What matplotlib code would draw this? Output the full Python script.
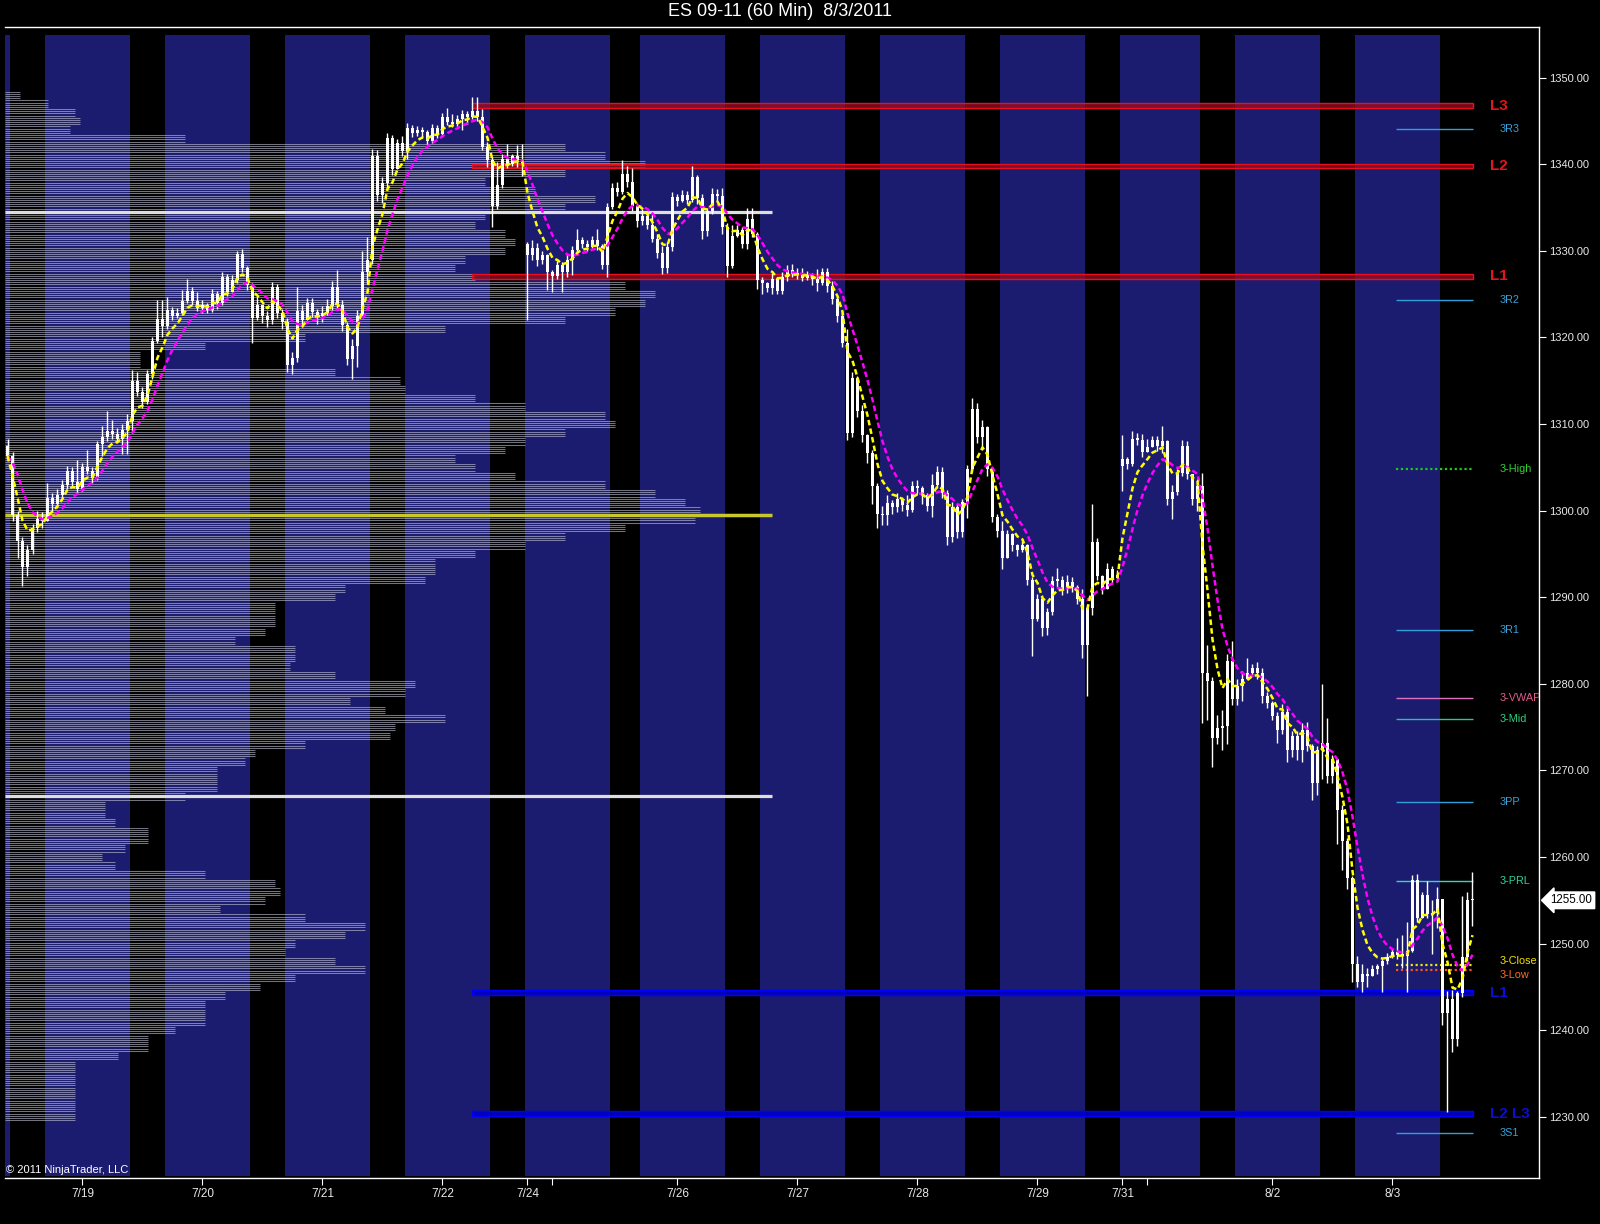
import numpy as np
import matplotlib
matplotlib.use('Agg')
import matplotlib.pyplot as plt
import matplotlib.transforms as mtransforms
from matplotlib.patches import Rectangle

plt.rcParams['font.family'] = ['Liberation Sans', 'DejaVu Sans']

# ES 09-11, 60 min bars (bar index 0 = 7/18 evening)
first_open = 1307.5
gap_opens = {104: 1330.8, 223: 1305.2}

close = [
    1306.3, 1299.5, 1296.5, 1293.5, 1295.5, 1298.0, 1299.0, 1298.8,
    1301.5, 1300.8, 1301.8, 1303.0, 1304.6, 1303.3, 1302.5, 1305.0, 1304.6, 1303.8, 1307.7, 1308.5,
    1309.2, 1308.8, 1308.3, 1309.3, 1310.4, 1315.0,
    1313.7, 1312.5, 1315.8, 1319.6, 1322.1, 1321.3,
    1323.2, 1322.5, 1322.8, 1324.2, 1325.4, 1324.2, 1323.4, 1323.8, 1323.2, 1325.0, 1324.0, 1327.0,
    1325.2, 1326.6, 1329.6, 1328.0, 1326.0, 1322.3,
    1323.8, 1322.5, 1322.0, 1325.8, 1322.8, 1321.8,
    1316.8, 1317.6, 1323.0, 1322.0, 1324.0, 1322.9, 1322.5, 1322.8, 1323.6, 1325.8, 1323.8, 1321.4,
    1317.5, 1319.0, 1322.5, 1327.6, 1329.0, 1341.0,
    1336.5, 1337.8, 1343.0, 1339.4, 1342.4, 1341.5,
    1344.2, 1343.6, 1344.0, 1343.7, 1342.7, 1344.2, 1343.5, 1345.4, 1344.9, 1344.7, 1345.2, 1345.8,
    1345.4, 1346.2, 1345.4, 1342.0, 1340.5, 1335.2,
    1337.6, 1340.6, 1340.0, 1340.9, 1340.5, 1340.2,
    1329.5, 1330.3, 1328.9, 1329.5, 1327.5, 1327.1, 1328.4, 1327.5, 1329.0, 1330.1, 1331.2, 1330.8,
    1330.5, 1331.2, 1330.6, 1328.4, 1335.1, 1337.2,
    1336.8, 1338.9, 1338.0, 1335.2, 1333.5,
    1334.0, 1333.0, 1331.4, 1329.8, 1328.0, 1330.4, 1336.2, 1335.7, 1336.5, 1335.9, 1338.5, 1336.1,
    1332.3, 1334.6, 1336.6, 1336.3, 1332.7, 1328.3,
    1331.7, 1332.4, 1330.8, 1333.7, 1332.0, 1326.6,
    1326.3, 1325.7, 1326.8, 1325.4, 1327.0, 1327.8, 1327.3, 1327.4, 1326.9, 1327.2, 1326.7, 1326.3,
    1327.5, 1325.9, 1324.4, 1322.5, 1319.4, 1309.0,
    1315.3, 1311.5, 1308.7, 1306.7, 1302.8, 1299.6,
    1299.5, 1300.9, 1300.4, 1301.3, 1300.6, 1300.1, 1302.8, 1302.6, 1301.8, 1300.5, 1303.0, 1304.5,
    1302.0, 1296.9, 1300.4, 1297.5, 1301.0, 1304.8,
    1311.7, 1308.5, 1309.6, 1304.8, 1299.3, 1297.6,
    1294.5, 1297.3, 1296.0, 1295.4, 1296.0, 1292.0, 1287.5, 1289.8, 1286.4, 1288.3, 1291.9, 1292.0,
    1290.9, 1291.8, 1291.2, 1289.8, 1284.5, 1288.7,
    1296.4, 1292.5, 1291.0, 1293.3, 1292.2, 1292.6,
    1306.0, 1305.4, 1308.3, 1308.2, 1306.8, 1307.4, 1308.2, 1307.5, 1308.0, 1301.4, 1302.2, 1304.3,
    1307.5, 1304.2, 1301.4, 1302.8,
    1281.3, 1280.3, 1273.7, 1274.9, 1275.1, 1282.6, 1278.2,
    1279.7, 1280.6, 1281.3, 1281.8, 1281.2, 1278.6, 1277.8, 1276.3, 1274.7, 1276.8, 1272.4, 1274.0,
    1272.4, 1274.7, 1272.8, 1268.5, 1272.4,
    1273.2, 1269.3, 1271.3, 1265.4, 1261.9, 1257.6, 1247.6,
    1245.6, 1246.5, 1246.3, 1247.1, 1247.4, 1248.0, 1248.5, 1249.0, 1248.7, 1248.6, 1249.2, 1257.4,
    1253.0, 1255.6, 1253.4, 1253.5, 1255.2,
    1242.0, 1243.6, 1239.0, 1244.3, 1248.4, 1255.0, 1255.0,
]

high = [
    1308.3, 1306.8, 1300.0, 1297.0, 1296.0, 1298.5, 1300.0, 1299.8,
    1303.2, 1302.0, 1302.5, 1303.5, 1305.2, 1305.0, 1305.8, 1305.5, 1307.0, 1305.0, 1308.0, 1309.8,
    1311.5, 1310.5, 1309.5, 1310.0, 1311.2, 1316.2,
    1316.0, 1314.3, 1316.2, 1320.0, 1324.3, 1324.3,
    1324.7, 1323.5, 1323.4, 1325.5, 1326.7, 1325.8, 1325.3, 1324.3, 1324.0, 1325.6, 1325.4, 1327.6,
    1327.3, 1327.2, 1330.0, 1330.2, 1328.3, 1326.3,
    1324.8, 1323.8, 1323.0, 1326.4, 1326.2, 1323.3,
    1322.3, 1318.3, 1325.8, 1323.8, 1324.6, 1324.6, 1323.3, 1323.6, 1324.4, 1326.5, 1327.8, 1324.3,
    1321.8, 1319.8, 1323.2, 1330.0, 1331.6, 1341.8,
    1341.6, 1338.5, 1343.6, 1343.4, 1342.9, 1343.3,
    1344.8, 1344.5, 1344.4, 1344.3, 1343.9, 1344.6, 1344.5, 1345.9, 1346.5, 1345.8, 1345.7, 1346.3,
    1346.2, 1347.8, 1347.8, 1346.4, 1342.6, 1340.8,
    1340.3, 1341.2, 1342.3, 1341.2, 1342.2, 1342.3,
    1331.0, 1331.3, 1330.9, 1330.0, 1329.6, 1327.8, 1328.8, 1328.7, 1329.6, 1330.6, 1332.5, 1331.6,
    1331.3, 1331.7, 1332.5, 1330.8, 1335.5, 1337.8,
    1337.9, 1340.5, 1339.8, 1339.6, 1335.5,
    1334.8, 1334.4, 1334.3, 1332.0, 1330.6, 1331.0, 1336.8, 1336.6, 1337.0, 1336.9, 1339.8, 1338.8,
    1336.6, 1335.0, 1337.2, 1337.1, 1337.2, 1333.2,
    1333.0, 1333.0, 1332.8, 1335.0, 1335.0, 1332.2,
    1327.0, 1326.4, 1327.4, 1327.0, 1327.5, 1328.4, 1328.5, 1328.0, 1328.0, 1327.7, 1327.4, 1327.9,
    1328.0, 1328.0, 1326.5, 1324.8, 1322.9, 1321.0,
    1316.0, 1315.6, 1312.2, 1308.9, 1307.0, 1303.2,
    1300.5, 1301.8, 1301.2, 1302.0, 1301.6, 1301.8, 1303.4, 1303.5, 1302.9, 1302.0, 1304.2, 1305.2,
    1305.0, 1302.4, 1301.0, 1300.8, 1301.4, 1305.3,
    1313.0, 1312.4, 1310.5, 1309.8, 1305.0, 1299.6,
    1298.8, 1297.8, 1297.4, 1296.2, 1296.5, 1296.1, 1292.3, 1290.4, 1290.3, 1288.8, 1292.5, 1293.4,
    1292.4, 1292.6, 1292.3, 1291.4, 1290.9, 1289.2,
    1300.8, 1296.8, 1292.6, 1293.9, 1293.6, 1293.2,
    1308.7, 1306.2, 1309.2, 1309.0, 1308.8, 1308.3, 1308.6, 1308.6, 1309.8, 1308.2, 1303.0, 1304.8,
    1308.1, 1308.0, 1303.9, 1303.4,
    1304.4, 1284.5, 1280.8, 1276.4, 1277.0, 1283.4, 1285.0,
    1280.6, 1281.5, 1283.0, 1282.3, 1282.5, 1281.8, 1279.0, 1278.0, 1276.7, 1277.7, 1277.3, 1274.5,
    1274.5, 1275.5, 1275.6, 1273.0, 1272.8,
    1280.0, 1276.0, 1271.8, 1271.0, 1266.0, 1262.2, 1257.8,
    1248.6, 1247.6, 1247.2, 1247.5, 1247.7, 1248.3, 1248.9, 1249.4, 1250.6, 1251.0, 1252.5, 1257.9,
    1258.0, 1256.0, 1257.2, 1255.0, 1256.5,
    1255.2, 1244.5, 1244.6, 1244.5, 1255.5, 1256.0, 1258.3,
]

low = [
    1305.8, 1298.8, 1294.5, 1291.3, 1292.5, 1295.0, 1297.5, 1298.0,
    1299.0, 1299.8, 1300.3, 1301.5, 1302.5, 1302.8, 1302.0, 1302.3, 1304.2, 1303.2, 1303.5, 1306.3,
    1308.0, 1308.3, 1307.8, 1306.5, 1306.5, 1309.0,
    1313.2, 1311.8, 1312.3, 1315.2, 1319.3, 1320.0,
    1321.0, 1322.0, 1322.3, 1322.6, 1324.0, 1323.8, 1323.0, 1322.8, 1322.8, 1322.9, 1323.3, 1323.8,
    1324.8, 1326.0, 1326.3, 1327.5, 1325.5, 1319.3,
    1322.0, 1321.7, 1321.2, 1321.5, 1322.3, 1321.0,
    1316.0, 1315.8, 1317.2, 1321.2, 1322.5, 1322.4, 1321.5, 1321.8, 1322.6, 1323.2, 1323.2, 1320.8,
    1316.8, 1315.2, 1316.6, 1322.8, 1326.2, 1328.5,
    1335.8, 1335.5, 1337.0, 1338.8, 1340.0, 1341.0,
    1340.6, 1343.2, 1343.3, 1343.2, 1342.3, 1342.5, 1343.0, 1343.3, 1344.5, 1344.3, 1344.4, 1344.0,
    1344.6, 1345.2, 1345.0, 1341.6, 1339.7, 1332.8,
    1334.8, 1337.2, 1339.6, 1339.8, 1339.7, 1338.6,
    1322.0, 1329.0, 1328.3, 1328.5, 1325.5, 1325.3, 1326.8, 1325.3, 1327.0, 1327.2, 1329.8, 1330.3,
    1330.0, 1330.3, 1330.1, 1327.9, 1327.0, 1334.8,
    1336.3, 1336.6, 1337.4, 1334.6, 1332.8,
    1333.0, 1332.5, 1331.0, 1329.2, 1327.3, 1327.4, 1330.0, 1335.2, 1335.6, 1335.4, 1335.6, 1335.4,
    1331.4, 1331.7, 1334.2, 1335.8, 1332.0, 1327.0,
    1328.0, 1331.6, 1330.3, 1330.2, 1331.6, 1325.6,
    1325.0, 1325.2, 1325.0, 1325.0, 1325.0, 1326.5, 1327.0, 1326.8, 1326.5, 1326.6, 1326.0, 1325.4,
    1326.0, 1325.3, 1323.9, 1321.8, 1318.9, 1308.2,
    1308.5, 1310.8, 1307.9, 1305.5, 1300.8, 1298.0,
    1298.3, 1298.3, 1299.6, 1299.8, 1300.0, 1299.4, 1299.8, 1302.0, 1300.8, 1300.0, 1299.3, 1302.6,
    1301.5, 1296.0, 1296.4, 1296.8, 1297.0, 1299.2,
    1304.5, 1307.8, 1307.0, 1304.0, 1298.7, 1296.9,
    1293.3, 1294.6, 1295.3, 1294.8, 1295.2, 1291.4, 1283.2, 1287.2, 1285.5, 1285.6, 1288.0, 1291.2,
    1290.3, 1290.5, 1290.6, 1289.2, 1283.0, 1278.6,
    1288.0, 1292.0, 1290.4, 1291.8, 1291.6, 1292.0,
    1302.3, 1304.8, 1305.1, 1307.6, 1306.2, 1306.8, 1307.5, 1306.9, 1306.7, 1300.6, 1299.0, 1301.8,
    1304.0, 1303.6, 1300.6, 1300.0,
    1275.5, 1275.8, 1270.4, 1273.0, 1272.3, 1273.0, 1277.5,
    1277.6, 1278.0, 1280.6, 1281.0, 1280.5, 1277.8, 1277.2, 1275.8, 1273.2, 1274.2, 1271.0, 1271.5,
    1271.2, 1271.0, 1272.2, 1266.6, 1267.2,
    1269.0, 1268.5, 1268.5, 1261.5, 1258.5, 1256.3, 1245.6,
    1245.0, 1244.4, 1245.0, 1246.4, 1246.5, 1244.4, 1247.6, 1248.3, 1248.2, 1247.2, 1244.4, 1249.0,
    1252.5, 1253.2, 1253.0, 1248.8, 1251.8,
    1240.6, 1230.5, 1237.5, 1238.2, 1243.8, 1248.0, 1252.0,
]

# trading sessions (blue bands), first and last bar of each
session_first = [-16, 8, 32, 56, 80, 104, 127, 151, 175, 199, 223, 246, 270]
session_last = [0, 24, 48, 72, 96, 120, 143, 167, 191, 215, 238, 262, 286]

tick_pos = [15, 39, 63, 87, 104, 109, 134, 158, 182, 206, 223, 228, 253, 277]
tick_lab = ['7/19', '7/20', '7/21', '7/22', '7/24', '', '7/26', '7/27', '7/28', '7/29',
            '7/31', '', '8/2', '8/3']

# volume profile, one value per point from 1229 up to 1348
vol_price0 = 1229
volume = [
    0, 70, 70, 70, 70, 70, 70, 70, 113, 143,
    143, 170, 200, 200, 200, 220, 255, 290, 360, 330,
    280, 290, 340, 360, 300, 215, 260, 275, 270, 200,
    110, 97, 120, 143, 143, 110, 100, 100, 180, 212,
    212, 212, 240, 250, 300, 385, 390, 440, 380, 345,
    400, 410, 330, 285, 290, 290, 230, 260, 270, 270,
    270, 330, 340, 420, 430, 430, 470, 520, 560, 620,
    690, 695, 680, 650, 600, 510, 470, 450, 500, 520,
    560, 610, 600, 520, 470, 400, 395, 330, 135, 135,
    200, 300, 440, 560, 610, 640, 650, 620, 470, 450,
    460, 500, 510, 500, 470, 480, 560, 590, 530, 480,
    560, 640, 600, 560, 180, 65, 75, 70, 43, 15,
]
va_high, va_low, poc = 1334.5, 1267.0, 1299.5

red_levels = [1346.75, 1339.8, 1327.05]
red_labels = ['L3', 'L2', 'L1']
blue_levels = [1244.35, 1230.35]
blue_labels = ['L1', 'L2 L3']

pivot_names = ['3R3', '3R2', '3-High', '3R1', '3-VWAP', '3-Mid', '3PP', '3-PRL', '3-Close', '3-Low', '3S1']
pivot_values = [1344.1, 1324.35, 1304.8, 1286.2, 1278.4, 1275.9, 1266.4, 1257.2, 1247.55, 1246.9, 1228.1]
pivot_colors = ['#2f9fdc', '#2f9fdc', '#1fc81f', '#2f9fdc', '#e070c0', '#20c8a0', '#2f9fdc',
                '#30d8c0', '#e8e800', '#ff5020', '#2f9fdc']
pivot_text = ['#3aa0d8', '#3aa0d8', '#30d030', '#3aa0d8', '#e05c8c', '#2ed07c', '#3aa0d8',
              '#30d0a0', '#f0e000', '#ff6a20', '#3aa0d8']
pivot_dotted = [False, False, True, False, False, False, False, False, True, True, False]
# small vertical nudge (points) so the two close labels stay readable
pivot_nudge = [0, 0, 0, 0, 0, 0, 0, 0, 3, -3, 0]


def ema(vals, n):
    a = 2.0 / (n + 1)
    out = np.empty(len(vals))
    out[0] = vals[0]
    for i in range(1, len(vals)):
        out[i] = a * vals[i] + (1 - a) * out[i - 1]
    return out


close = np.array(close)
opn = np.r_[first_open, close[:-1]]
for k, v in gap_opens.items():
    opn[k] = v
high = np.maximum(np.array(high), np.maximum(opn, close))
low = np.minimum(np.array(low), np.minimum(opn, close))
x = np.arange(len(close))

fig = plt.figure(figsize=(16, 12.24), dpi=100, facecolor='black')
ax = fig.add_axes([5 / 1600, 46 / 1224, 1534 / 1600, 1151 / 1224])
ax.set_facecolor('black')
ax.set_xlim(-0.5, 306.3)
ax.set_ylim(1222.93, 1355.85)

# session bands
for f, l in zip(session_first, session_last):
    ax.axvspan(f - 0.5, l + 0.5, ymin=0.0015, ymax=0.993, color='#1b1b6f', lw=0, zorder=0)

# volume profile
ys, xe = [], []
for i, v in enumerate(volume):
    if v == 0:
        continue
    p = vol_price0 + i
    for d in (-0.375, -0.125, 0.125, 0.375):
        ys.append(p + d)
        xe.append(-0.5 + v / 5.0)
ax.hlines(ys, -0.5, xe, color='#c8c8d8', lw=0.75, alpha=0.58, zorder=1)
ax.hlines([va_high, va_low], -0.5, 152.9, color='#dedede', lw=2.3, zorder=2)
ax.hlines(poc, -0.5, 152.9, color='#c8c82a', lw=2.5, zorder=2)

# L levels
for lv, lab in zip(red_levels, red_labels):
    ax.add_patch(Rectangle((92.9, lv - 0.28), 200.2, 0.56, facecolor=(0.62, 0.05, 0.12, 0.75),
                           edgecolor='#e8101c', lw=1.0, zorder=3))
    ax.text(296.5, lv, lab, color='#e8141c', fontsize=11, fontweight='bold', va='center',
            ha='left', zorder=6)
for lv, lab in zip(blue_levels, blue_labels):
    ax.add_patch(Rectangle((92.9, lv - 0.28), 200.2, 0.56, facecolor=(0.0, 0.0, 0.78, 0.9),
                           edgecolor='#0000ff', lw=1.0, zorder=3))
    ax.text(296.5, lv, lab, color='#0c0cd8', fontsize=11, fontweight='bold', va='center',
            ha='left', zorder=6)

# pivot levels
for name, val, c, tc, dot, nd in zip(pivot_names, pivot_values, pivot_colors, pivot_text,
                                     pivot_dotted, pivot_nudge):
    ax.hlines(val, 277.8, 293.2, color=c, lw=1.6 if dot else 1.0,
              linestyles=(0, (1, 1.2)) if dot else 'solid', zorder=3)
    ax.annotate(name, (298.5, val), xytext=(0, nd), textcoords='offset points', color=tc,
                fontsize=7.8, va='center', ha='left', zorder=6, annotation_clip=False,
                clip_on=True)

# candles
body_lo = np.minimum(opn, close)
body_h = np.maximum(np.abs(close - opn), 0.15)
ax.vlines(x, low, high, color='white', lw=1.0, zorder=4)
ax.bar(x, body_h, bottom=body_lo, width=0.64, color='white', lw=0, zorder=4)

# moving averages
fast = ema(close, 5)
slow = ema(fast, 5)
ax.plot(x, slow, color='#ff00ff', lw=1.8, dashes=(2.2, 1.3), zorder=5)
ax.plot(x, fast, color='#ffff00', lw=1.8, dashes=(2.2, 1.3), zorder=5)

# axes styling
ax.yaxis.tick_right()
ax.set_yticks(np.arange(1230, 1351, 10))
ax.yaxis.set_major_formatter(matplotlib.ticker.FormatStrFormatter('%.2f'))
ax.set_xticks(tick_pos)
ax.set_xticklabels(tick_lab)
ax.tick_params(axis='y', colors='white', length=5, labelsize=8, pad=2, labelcolor='#e8e8e8')
ax.tick_params(axis='x', colors='white', length=5, labelsize=8.5, pad=2.5, labelcolor='#e8e8e8')
for s in ['bottom', 'right', 'top']:
    ax.spines[s].set_color('white')
    ax.spines[s].set_linewidth(1.0)
ax.spines['left'].set_visible(False)

# last price marker
trans = mtransforms.blended_transform_factory(ax.transAxes, ax.transData)
ax.text(1.0075, close[-1], '%.2f' % close[-1], transform=trans, ha='left', va='center',
        fontsize=8.3, color='black', zorder=7, clip_on=False,
        bbox=dict(boxstyle='larrow,pad=0.2', fc='white', ec='white'))

ax.text(0.0005, 0.003, '\u00a9 2011 NinjaTrader, LLC', transform=ax.transAxes, color='white',
        fontsize=8, ha='left', va='bottom', zorder=7)

fig.text(0.4875, 1 - 12 / 1224, 'ES 09-11 (60 Min)  8/3/2011', color='white', fontsize=13,
         ha='center', va='center')

fig.savefig('out.png', dpi=100, facecolor='black')
